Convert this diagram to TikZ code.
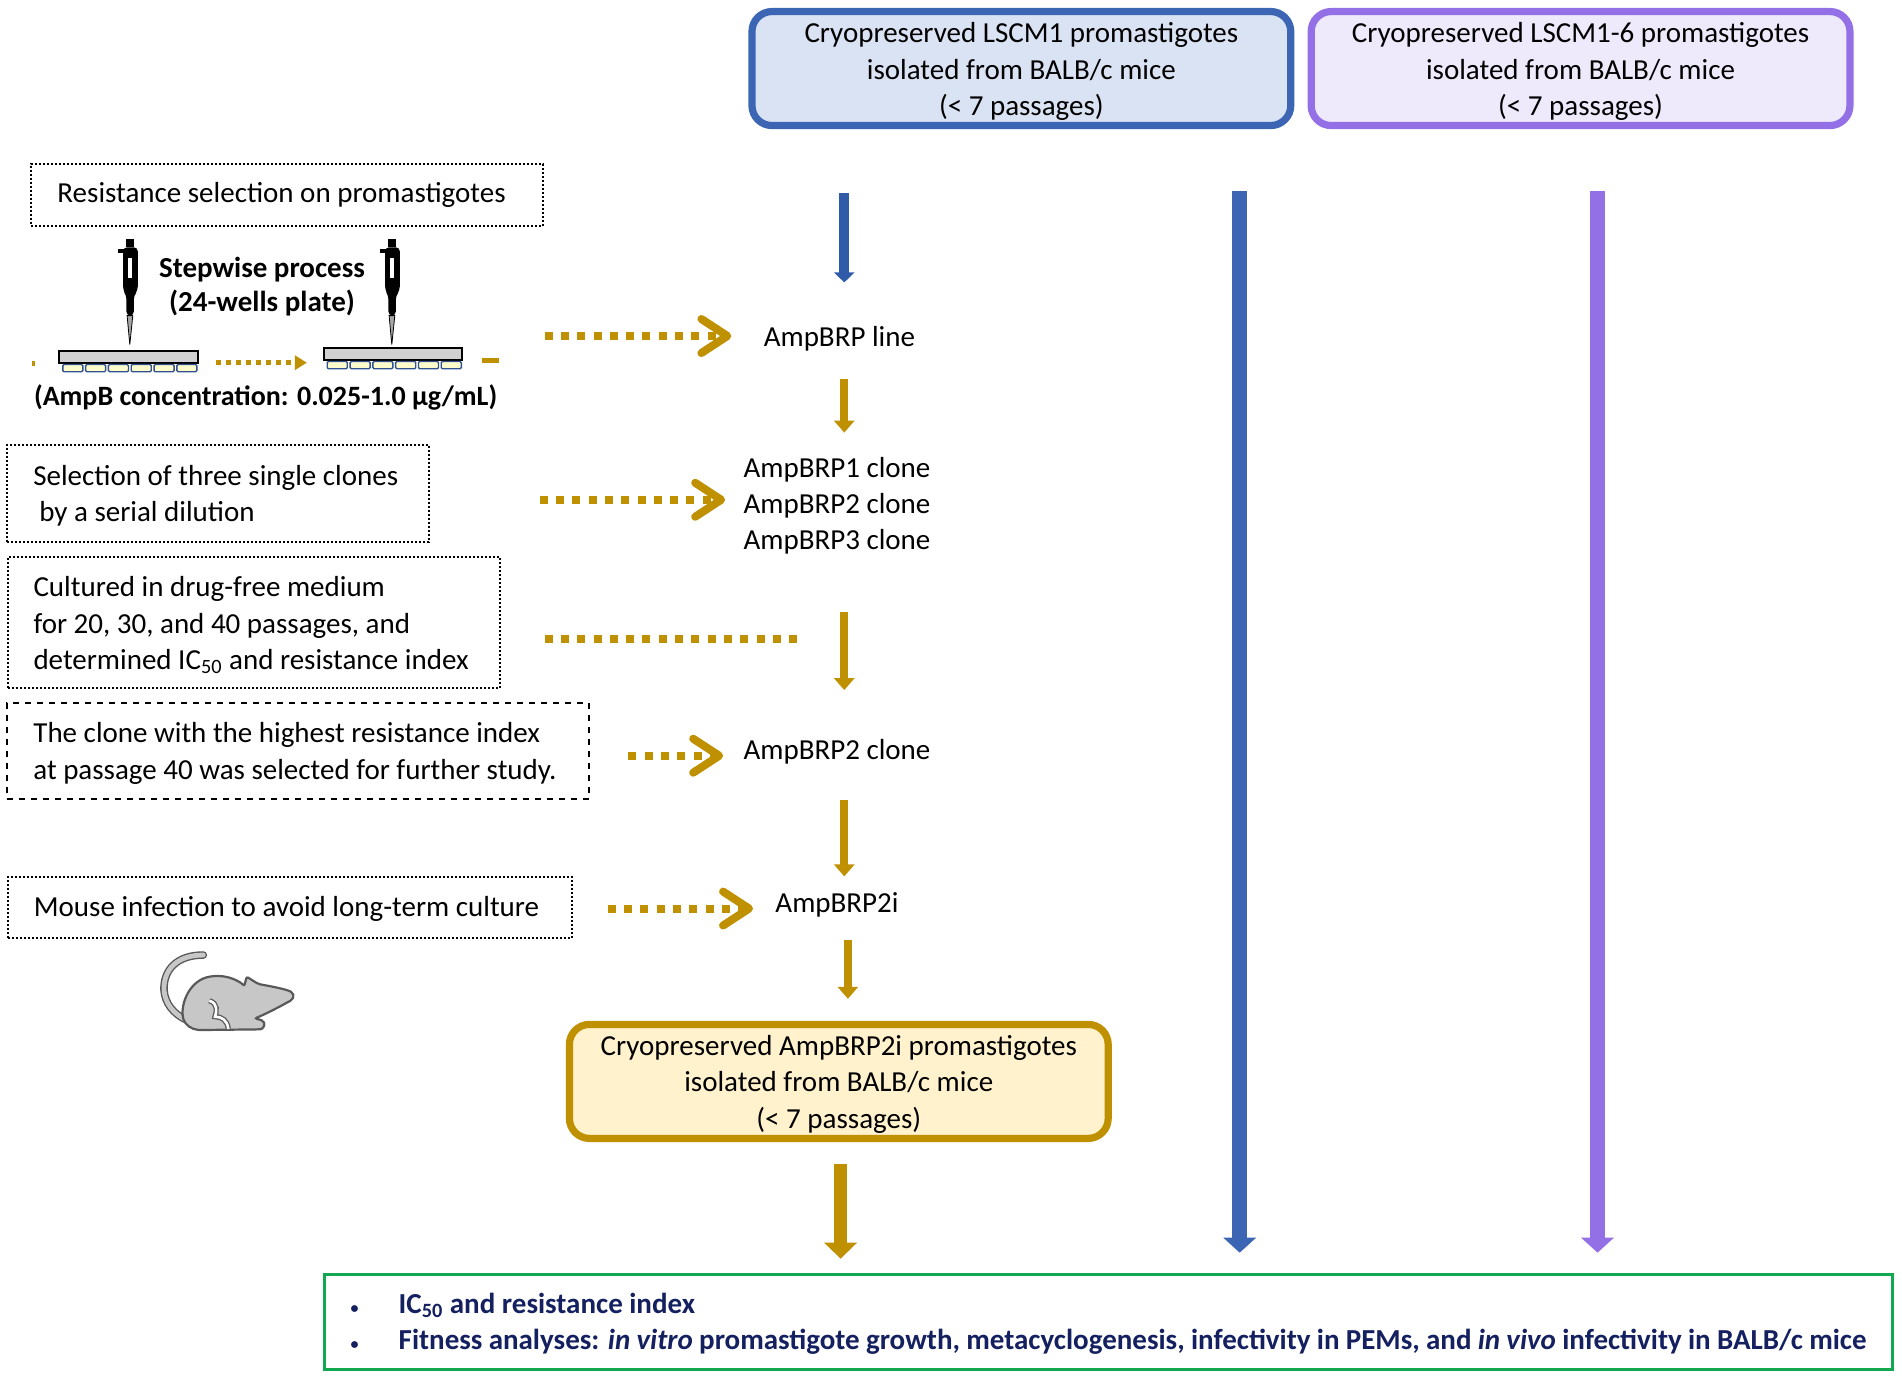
\documentclass[tikz,border=0pt]{standalone}
\usepackage{fontspec}
\setmainfont{Carlito}
\usetikzlibrary{arrows.meta}
\definecolor{goldline}{HTML}{BF9000}
\definecolor{blueline}{HTML}{3C66B4}
\definecolor{bluedark}{HTML}{2F5BA8}
\definecolor{purpleline}{HTML}{9370E6}
\definecolor{navytext}{HTML}{14205F}
\definecolor{bluefill}{HTML}{DAE3F3}
\definecolor{purplefill}{HTML}{EEEAFB}
\definecolor{goldfill}{HTML}{FFF2CC}
\definecolor{greenline}{HTML}{12A850}
\newcommand{\bodyfont}{\fontsize{14.5}{18.2}\selectfont}
\newcommand{\firstline}{\rule{0pt}{13pt}}
\newcommand{\nudgeline}{\rule{0pt}{12pt}}
\tikzstyle{cryobox} = [rectangle, rounded corners=10pt, line width=3.6pt, minimum width=269.4pt, minimum height=57pt, align=center, inner sep=0pt, font=\bodyfont]
\tikzstyle{notebox} = [rectangle, draw=black, densely dotted, line width=1pt, align=flush left, inner xsep=13pt, inner ysep=0pt, font=\bodyfont]
\tikzstyle{lbl} = [align=center, inner sep=0pt, minimum height=12pt, font=\bodyfont]
\tikzstyle{steplbl} = [align=center, inner sep=0pt, font=\bodyfont\bfseries]
\tikzstyle{reslist} = [rectangle, draw=greenline, line width=1.4pt, text width=758pt, minimum height=47.5pt, text=navytext, align=flush left, inner xsep=13pt, inner ysep=0pt, font=\bodyfont\bfseries]
\tikzstyle{goldarrow} = [goldline, line width=4pt, -{Triangle[width=10pt,length=6pt]}]
\tikzstyle{bigarrow} = [goldline, line width=6.5pt, -{Triangle[width=16pt,length=8pt]}]
\tikzstyle{smallblue} = [bluedark, line width=5pt, -{Triangle[width=10pt,length=5pt]}]
\tikzstyle{longarrow} = [line width=7.5pt, -{Triangle[width=16pt,length=7.5pt]}]
\tikzstyle{dotarrow} = [goldline, line width=4pt, dash pattern=on 4pt off 4.15pt, -{Straight Barb[width=17pt,length=13pt,round]}]
\tikzstyle{dotline} = [goldline, line width=4pt, dash pattern=on 4pt off 4.15pt]
\tikzstyle{stepdots} = [goldline, line width=2.5pt, dash pattern=on 2.5pt off 2.5pt, -{Triangle[width=7pt,length=6pt]}]
\tikzset{
  pipette/.pic={
    \begin{scope}[scale=0.2748]
      \fill [black] (-10,0) rectangle (14,25);
      \fill [black] (-36,30) rectangle (-18,43);
      \fill [black, rounded corners=2pt] (-20,25) -- (24,25) -- (24,155) -- (12,170) -- (12,230) -- (-10,230) -- (-10,170) -- (-20,155) -- cycle;
      \fill [white] (-6,57) rectangle (8,117);
      \draw [black, fill=black!35, line width=0.4pt] (-8,230) -- (9,230) -- (0,317) -- cycle;
    \end{scope}
  },
  plate/.pic={
    \draw [black, fill=black!18, line width=1pt] (0,0) rectangle (114,10);
    \foreach \wx in {0,...,5}
      \draw [blueline!80!black, fill=yellow!20, line width=0.7pt, rounded corners=0.6pt] (2.8+18.8*\wx,11) rectangle (19.3+18.8*\wx,17);
  }
}
\begin{document}
\begin{tikzpicture}[x=0.6065pt, y=-0.6065pt]
  \useasboundingbox (0,0) rectangle (1568,1136);
  \coordinate (blueshort) at (696,0);
  \coordinate (goldx) at (696,0);
  \coordinate (goldlow) at (699,0);
  \coordinate (goldbig) at (693,0);
  \coordinate (bluelong) at (1022,0);
  \coordinate (purplelong) at (1317,0);

  \node (lscm) [cryobox, draw=blueline, fill=bluefill] at (842,56.5) {\firstline Cryopreserved LSCM1 promastigotes\\isolated from BALB/c mice\\(< 7 passages)};
  \node (lscmsix) [cryobox, draw=purpleline, fill=purplefill] at (1303,56.5) {\firstline Cryopreserved LSCM1-6 promastigotes\\isolated from BALB/c mice\\(< 7 passages)};
  \node (cryoamp) [cryobox, draw=goldline, fill=goldfill] at (691.5,891.5) {\firstline Cryopreserved AmpBRP2i promastigotes\\isolated from BALB/c mice\\(< 7 passages)};

  \node (selres) [notebox, text width=230pt, minimum height=31pt] at (237,160.5) {Resistance selection on promastigotes};
  \node (selclone) [notebox, text width=185pt, minimum height=48.5pt] at (180,407) {\nudgeline Selection of three single clones\\\hspace*{3pt}by a serial dilution};
  \node (culture) [notebox, text width=220pt, minimum height=65.5pt] at (209,513) {\firstline Cultured in drug-free medium\\for 20, 30, and 40 passages, and\\determined IC\textsubscript{50} and resistance index};
  \node (highest) [notebox, dashed, text width=265pt, minimum height=48pt] at (246,619.5) {\nudgeline The clone with the highest resistance index\\at passage 40 was selected for further study.};
  \node (mouseinf) [notebox, text width=256pt, minimum height=30.3pt] at (239,748) {\nudgeline Mouse infection to avoid long-term culture};

  \node (stepwise) [steplbl] at (216,236) {Stepwise process\\[-1.2pt](24-wells plate)};
  \node (conc) [steplbl, font=\fontsize{14}{18}\selectfont\bfseries] at (219,328) {(AmpB concentration: 0.025-1.0 µg/mL)};

  \node (line) [lbl] at (692,279) {AmpBRP line};
  \node (clones) [lbl] at (690,417) {AmpBRP1 clone\\AmpBRP2 clone\\AmpBRP3 clone};
  \node (rptwo) [lbl] at (690,620) {AmpBRP2 clone};
  \node (rptwoi) [lbl] at (690,746) {AmpBRP2i};

  \node (results) [reslist] at (914,1090) {\nudgeline\makebox[24pt][l]{\footnotesize\textbullet}IC\textsubscript{50} and resistance index\\\makebox[24pt][l]{\footnotesize\textbullet}Fitness analyses: \textit{in vitro} promastigote growth, metacyclogenesis, infectivity in PEMs, and \textit{in vivo} infectivity in BALB/c mice};

  \pic at (107,197) {pipette};
  \pic at (323,197) {pipette};
  \pic at (49,289.5) {plate};
  \pic at (267,287) {plate};

  \coordinate (stepa) at (178,299);
  \coordinate (stepb) at (253,299);
  \coordinate (stuba) at (26,300);
  \coordinate (stubb) at (29,300);
  \coordinate (stubc) at (397,297);
  \coordinate (stubd) at (411,297);
  \coordinate (linestart) at (449,277);
  \coordinate (clonestart) at (445,412);
  \coordinate (freestart) at (449,527);
  \coordinate (freeend) at (657,527);
  \coordinate (higheststart) at (518,623);
  \coordinate (infstart) at (501,749);

  \draw [stepdots] (stepa) -- (stepb);
  \draw [goldline, line width=2.5pt] (stuba) -- (stubb);
  \draw [goldline, line width=2.5pt] (stubc) -- (stubd);
  \draw [dotarrow, shorten >=16pt] (linestart) -- (linestart -| line.west);
  \draw [dotarrow, shorten >=9pt] (clonestart) -- (clonestart -| clones.west);
  \draw [dotline] (freestart) -- (freeend);
  \draw [dotarrow, shorten >=10pt] (higheststart) -- (higheststart -| rptwo.west);
  \draw [dotarrow, shorten >=11pt] (infstart) -- (infstart -| rptwoi.west);

  \draw [smallblue, shorten <=32pt, shorten >=21.6pt] (lscm.south -| blueshort) -- (line.north -| blueshort);
  \draw [goldarrow, shorten <=14pt, shorten >=12pt] (line.south -| goldx) -- (clones.north -| goldx);
  \draw [goldarrow, shorten <=28.4pt, shorten >=24.6pt] (clones.south -| goldx) -- (rptwo.north -| goldx);
  \draw [goldarrow, shorten <=17.4pt, shorten >=7.9pt] (rptwo.south -| goldx) -- (rptwoi.north -| goldx);
  \draw [goldarrow, shorten <=11pt, shorten >=11pt] (rptwoi.south -| goldlow) -- (cryoamp.north -| goldlow);
  \draw [bigarrow, shorten <=11pt, shorten >=7.3pt] (cryoamp.south -| goldbig) -- (results.north -| goldbig);
  \draw [longarrow, blueline, shorten <=31pt, shorten >=10.3pt] (lscm.south -| bluelong) -- (results.north -| bluelong);
  \draw [longarrow, purpleline, shorten <=31pt, shorten >=10.3pt] (lscmsix.south -| purplelong) -- (results.north -| purplelong);

  \begin{scope}[shift={(0,709)}, scale=0.2748]
    \draw [black!65, line width=3.8pt, line cap=round] (610,285) .. controls (530,285) and (490,330) .. (492,390) .. controls (495,430) and (520,460) .. (555,478);
    \draw [black!22, line width=2.4pt, line cap=round] (610,285) .. controls (530,285) and (490,330) .. (492,390) .. controls (495,430) and (520,460) .. (555,478);
    \draw [black!65, fill=black!22, line width=1.1pt, rounded corners=1pt] (548,470) .. controls (545,420) and (575,350) .. (650,348) .. controls (690,348) and (720,365) .. (733,378) -- (740,350) -- (775,372) .. controls (820,380) and (860,388) .. (878,398) .. controls (882,410) and (878,420) .. (865,425) .. controls (840,440) and (790,465) .. (765,475) -- (790,482) .. controls (795,495) and (790,507) .. (775,508) -- (600,510) .. controls (575,508) and (555,495) .. (548,470) -- cycle;
    \draw [black!65, line width=2.6pt] (628,422) .. controls (655,430) and (650,455) .. (645,470) .. controls (665,470) and (682,480) .. (685,507);
    \draw [white, line width=1.3pt] (628,422) .. controls (655,430) and (650,455) .. (645,470) .. controls (665,470) and (682,480) .. (685,507);
  \end{scope}
\end{tikzpicture}
\end{document}
